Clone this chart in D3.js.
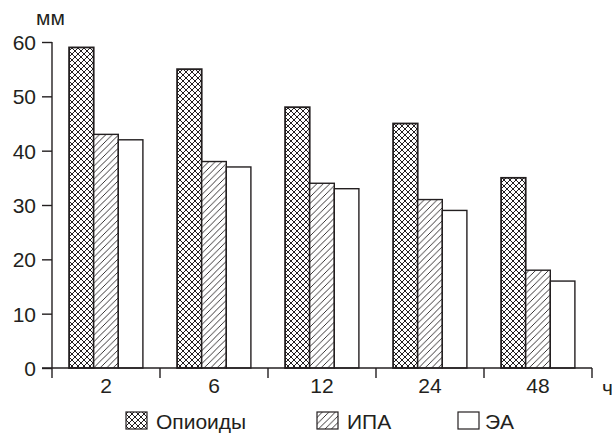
<!DOCTYPE html>
<html><head><meta charset="utf-8">
<script src="https://cdn.jsdelivr.net/npm/d3@7/dist/d3.min.js"></script>
<style>body{margin:0;background:#fff}svg{display:block}text{font-family:"Liberation Sans",Arial,sans-serif;fill:#231f20}</style>
</head><body>
<script>
const categories = ["2","6","12","24","48"];
const seriesNames = ["Опиоиды","ИПА","ЭА"];
const opioids = [59,55,48,45,35];
const ipa = [43,38,34,31,18];
const ea = [42,37,33,29,16];
const yTicks = [0,10,20,30,40,50,60];

const W=612,H=434, ink="#231f20", FS=21;
const svg=d3.select("body").append("svg").attr("width",W).attr("height",H);
const defs=svg.append("defs");
const cross=defs.append("pattern").attr("id","cross").attr("patternUnits","userSpaceOnUse").attr("width",6).attr("height",6);
cross.append("rect").attr("width",6).attr("height",6).attr("fill","#fff");
cross.append("path").attr("d","M0,0L6,6M6,0L0,6M-3,3L3,9M3,-3L9,3M-3,3L3,-3M3,9L9,3").attr("stroke",ink).attr("stroke-width",1);
const hatch=defs.append("pattern").attr("id","hatch").attr("patternUnits","userSpaceOnUse").attr("width",6.5).attr("height",6.5);
hatch.append("rect").attr("width",6.5).attr("height",6.5).attr("fill","#fff");
hatch.append("path").attr("d","M0,6.5L6.5,0M-3.25,3.25L3.25,-3.25M3.25,9.75L9.75,3.25").attr("stroke",ink).attr("stroke-width",0.9);
const fills=["url(#cross)","url(#hatch)","#fff"];

const x=d3.scaleBand().domain(categories).range([52,592]);
const y=d3.scaleLinear().domain([0,60]).range([368,42]);
const bw=24.6;
const xs=d3.scaleBand().domain(seriesNames).range([0,bw*3]);
const data=[opioids,ipa,ea];

const g=svg.append("g");
categories.forEach((c,i)=>{
  seriesNames.forEach((s,j)=>{
    const cx=x(c)+x.bandwidth()/2-bw*1.5+xs(s);
    g.append("rect").attr("x",cx).attr("y",y(data[j][i])).attr("width",bw).attr("height",y(0)-y(data[j][i]))
      .attr("fill",fills[j]).attr("stroke",ink).attr("stroke-width",j==0?1.8:1.4);
  });
});

// y axis
const ya=svg.append("g").attr("transform","translate(52,0)").call(d3.axisLeft(y).tickValues(yTicks).tickSize(10).tickPadding(6));
ya.select(".domain").remove();
ya.attr("font-size",FS).attr("font-family","Liberation Sans, Arial, sans-serif");
ya.selectAll("line").attr("stroke",ink).attr("stroke-width",1.4);
ya.selectAll("text").attr("fill",ink).attr("dy","0.36em");
svg.append("line").attr("x1",52).attr("x2",52).attr("y1",y(60)).attr("y2",y(0)).attr("stroke",ink).attr("stroke-width",1.4);

// x axis
const xa=svg.append("g").attr("transform","translate(0,368)").call(d3.axisBottom(x).tickSize(0).tickPadding(9));
xa.select(".domain").remove();
xa.attr("font-size",FS).attr("font-family","Liberation Sans, Arial, sans-serif");
xa.selectAll("text").attr("fill",ink).attr("dy","0.78em");
svg.append("line").attr("x1",42).attr("x2",592).attr("y1",368).attr("y2",368).attr("stroke",ink).attr("stroke-width",1.4);
const bounds=categories.map(c=>x(c)).concat([x.range()[1]]);
svg.selectAll(".xt").data(bounds).enter().append("line").attr("x1",d=>d).attr("x2",d=>d).attr("y1",368).attr("y2",378).attr("stroke",ink).attr("stroke-width",1.4);

svg.append("text").attr("x",36).attr("y",25).attr("font-size",FS).text("мм");
svg.append("text").attr("x",602).attr("y",395).attr("font-size",FS).text("ч");

// legend
const lx=[126,317,458];
seriesNames.forEach((s,j)=>{
  svg.append("rect").attr("x",lx[j]).attr("y",412).attr("width",21).attr("height",17).attr("fill",fills[j]).attr("stroke",ink).attr("stroke-width",1.2);
  svg.append("text").attr("x",lx[j]+(j==2?27:30)).attr("y",429).attr("font-size",FS).text(s);
});
</script>
</body></html>
